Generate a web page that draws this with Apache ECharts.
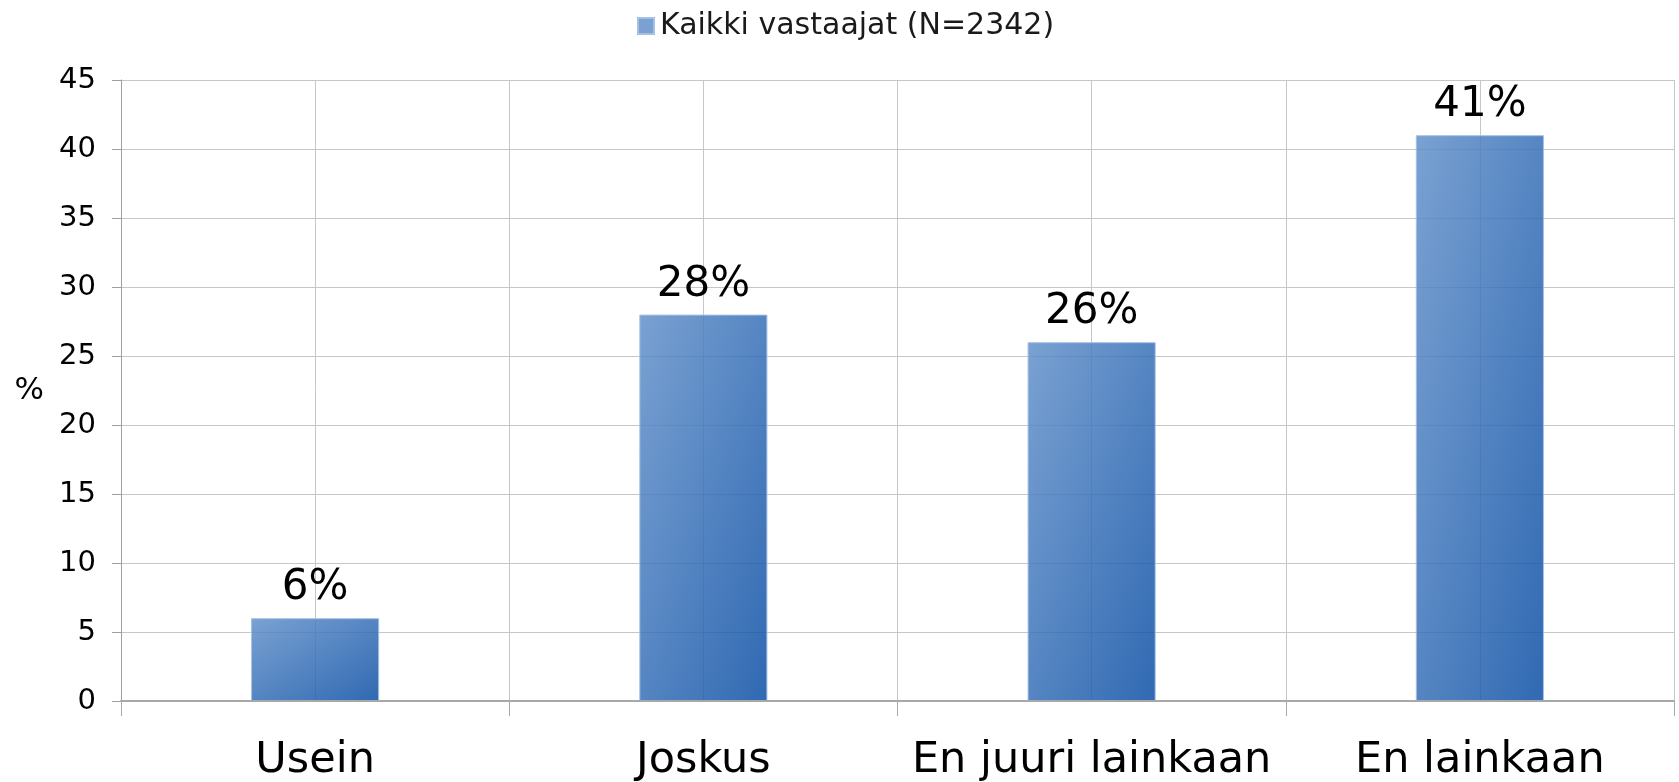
<!DOCTYPE html>
<html>
<head>
<meta charset="utf-8">
<script src="https://cdn.jsdelivr.net/npm/echarts@6/dist/echarts.min.js"></script>
<style>
  html, body { margin: 0; padding: 0; background: #fff; }
  #chart { width: 1679px; height: 782px; }
</style>
</head>
<body>
<div id="chart"></div>
<script>
// Vastausjakauma, kaikki vastaajat
const categories = ['Usein', 'Joskus', 'En juuri lainkaan', 'En lainkaan'];
const seriesName = 'Kaikki vastaajat (N=2342)';
const values = [6, 28, 26, 41];
const yTicks = { min: 0, max: 45, interval: 5 };

const FONT = '"DejaVu Sans", Verdana, sans-serif';
const LIGHT = 'rgba(99,145,202,0.85)';
const DARK = 'rgba(12,79,165,0.85)';
const BAR_SHARE = 0.33;

// Diagonal fill whose colour bands run corner to corner in the bar's own
// proportions: the gradient vector is perpendicular to x/w + y/h = const.
function diagonalFill(w, h) {
  const d = w * w + h * h;
  return {
    type: 'linear', x: 0, y: 0,
    x2: (2 * h * h) / d,
    y2: (2 * w * w) / d,
    colorStops: [
      { offset: 0, color: LIGHT },
      { offset: 1, color: DARK }
    ]
  };
}

const chart = echarts.init(document.getElementById('chart'), null, { renderer: 'canvas' });

const baseOption = {
  backgroundColor: '#ffffff',
  animation: false,
  textStyle: { fontFamily: FONT, color: '#000' },
  legend: {
    top: 6,
    left: 632,
    itemWidth: 16,
    itemHeight: 16,
    icon: 'rect',
    textStyle: { fontFamily: FONT, fontSize: 30, color: '#1a1a1a', padding: [0, 0, 0, 1] },
    data: [seriesName]
  },
  grid: { left: 121, right: 5, top: 80, bottom: 81, containLabel: false, outerBoundsMode: 'none' },
  xAxis: [
    {
      type: 'category',
      data: categories,
      boundaryGap: true,
      axisLine: { show: true, lineStyle: { color: '#a8a8a8', width: 2 } },
      axisTick: { show: true, interval: 0, length: 15, lineStyle: { color: '#a8a8a8', width: 1 } },
      axisLabel: { interval: 0, margin: 38, fontFamily: FONT, fontSize: 43, color: '#000' },
      splitLine: { show: false },
      z: 3
    },
    {
      // half-category vertical grid
      type: 'value',
      min: 0, max: 8, interval: 1,
      position: 'bottom',
      axisLine: { show: false },
      axisTick: { show: false },
      axisLabel: { show: false },
      splitLine: { show: true, lineStyle: { color: '#c6c6c6', width: 1 } }
    }
  ],
  yAxis: {
    type: 'value',
    min: yTicks.min, max: yTicks.max, interval: yTicks.interval,
    name: '%',
    nameLocation: 'middle',
    nameRotate: 0,
    nameGap: 77,
    nameTextStyle: { fontFamily: FONT, fontSize: 31, color: '#000', padding: [8, 0, 0, 0] },
    axisLine: { show: true, lineStyle: { color: '#a0a0a0', width: 1 } },
    axisTick: { show: true, length: 9, lineStyle: { color: '#a0a0a0' } },
    axisLabel: { margin: 25, fontFamily: FONT, fontSize: 29, color: '#000' },
    splitLine: { show: true, lineStyle: { color: '#c6c6c6', width: 1 } }
  },
  series: [{
    name: seriesName,
    type: 'bar',
    xAxisIndex: 0,
    data: values,
    barWidth: (BAR_SHARE * 100) + '%',
    z: 1,
    itemStyle: { color: LIGHT, borderColor: '#a6bfe4', borderWidth: 1 },
    label: {
      show: true,
      position: 'top',
      distance: 9,
      formatter: p => p.value + '%',
      fontFamily: FONT,
      fontSize: 42,
      color: '#000'
    }
  }]
};
chart.setOption(baseOption);

// Give each bar its own fill, sized from the axis scales.
const x0 = chart.convertToPixel({ xAxisIndex: 0 }, 0);
const x1 = chart.convertToPixel({ xAxisIndex: 0 }, 1);
const yZero = chart.convertToPixel({ yAxisIndex: 0 }, 0);
const barW = Math.abs(x1 - x0) * BAR_SHARE;
chart.setOption({
  series: [{
    data: values.map(v => {
      const h = Math.abs(yZero - chart.convertToPixel({ yAxisIndex: 0 }, v));
      return { value: v, itemStyle: { color: diagonalFill(barW, h) } };
    })
  }]
});
</script>
</body>
</html>
